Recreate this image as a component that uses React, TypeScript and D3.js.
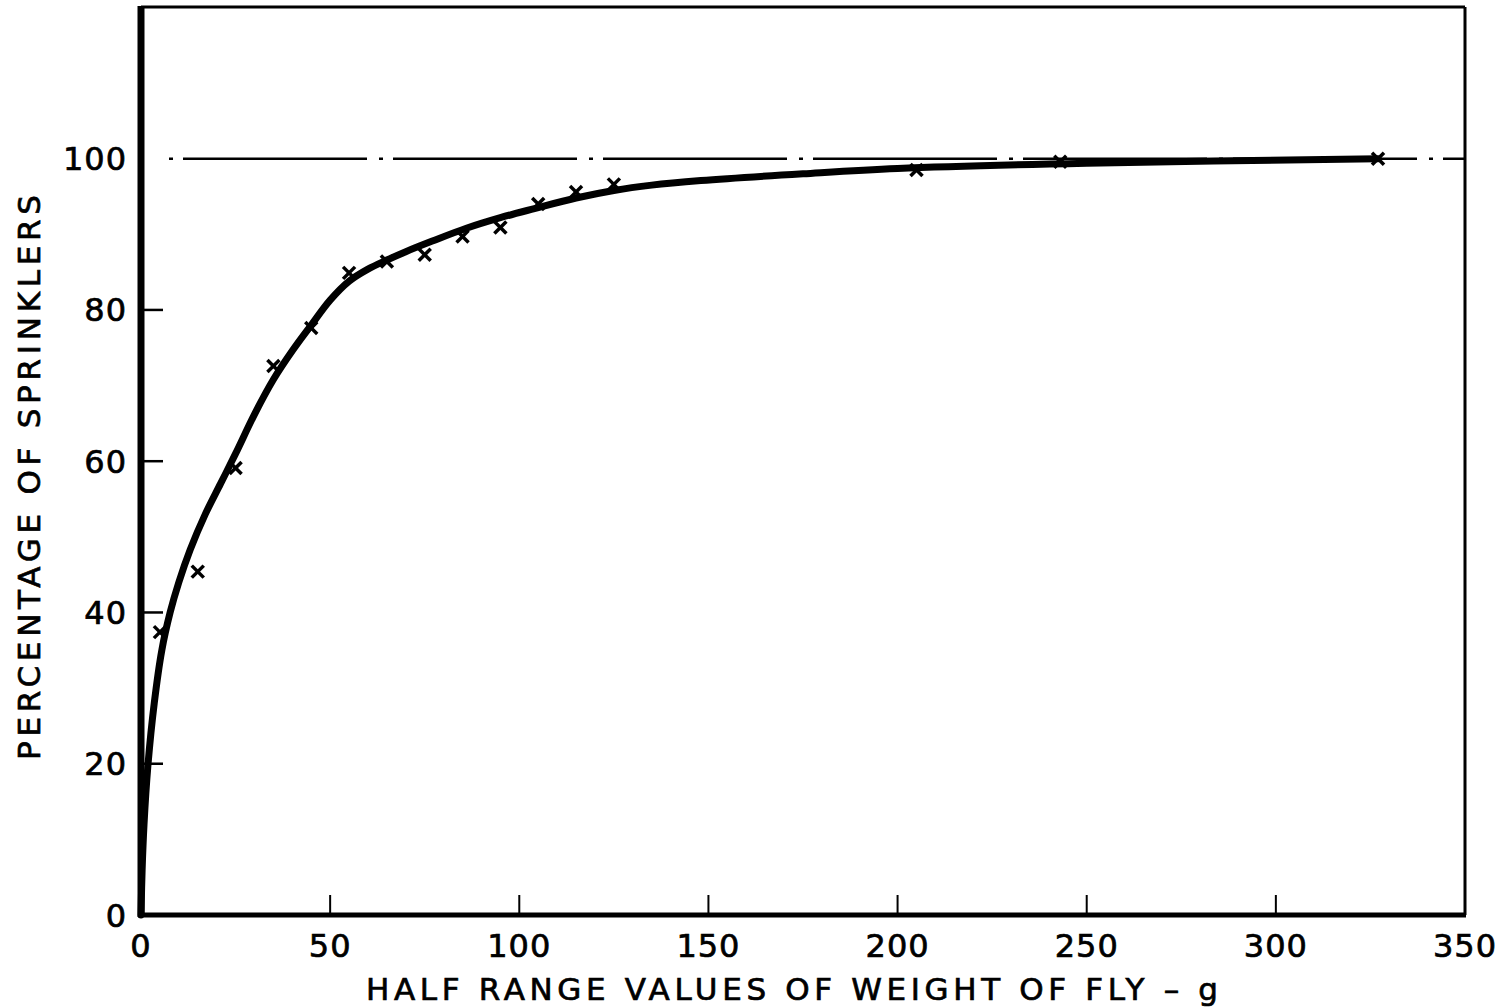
import React from 'react'
import * as d3 from 'd3'

// observed points (half range of fly weight, % of sprinklers)
const obsX = [5, 15, 25, 35, 45, 55, 65, 75, 85, 95, 105, 115, 125, 205, 243, 327]
const obsY = [37.4, 45.4, 59.1, 72.6, 77.6, 84.9, 86.4, 87.3, 89.7, 90.9, 94.0, 95.6, 96.6, 98.5, 99.6, 100]

// hand-fitted smooth curve
const fitX = [0, 0.3, 0.8, 1.8, 3.5, 5.5, 7.7, 10, 13, 17, 21, 25, 30, 35, 40, 45, 50, 55, 60, 65, 70, 77, 86, 95, 104, 115, 125, 135, 148, 175, 200, 250, 327]
const fitY = [0, 6, 12, 19.6, 28, 35, 40, 44, 48.3, 53, 57, 61, 66.2, 70.8, 74.6, 78, 81.3, 83.8, 85.4, 86.6, 87.7, 89.1, 90.8, 92.2, 93.4, 94.8, 95.8, 96.5, 97.1, 98.0, 98.7, 99.4, 100]

const xTicks = [0, 50, 100, 150, 200, 250, 300, 350]
const yTicks = [0, 20, 40, 60, 80, 100]
const refLevel = 100

const W = 1504
const H = 1008
const left = 141
const right = 1465
const top = 7
const bottom = 915

export default function App() {
  const x = d3.scaleLinear().domain([0, 350]).range([left, right])
  const y = d3.scaleLinear().domain([0, 120]).range([bottom, top + 0.4])

  const pts = fitX.map((v, i) => [v, fitY[i]] as [number, number])
  const line = d3.line<[number, number]>()
    .x(d => x(d[0]))
    .y(d => y(d[1]))
    .curve(d3.curveCatmullRom.alpha(0.5))

  const font = '"DejaVu Sans", "Noto Sans", sans-serif'
  const txt = { fontFamily: font, fill: '#000', stroke: '#000', strokeWidth: 0.7 }

  return (
    <div style={{ position: 'absolute', left: 0, top: 0 }}>
      <svg width={W} height={H} viewBox={`0 0 ${W} ${H}`} style={{ display: 'block', background: '#fff' }}>
        {/* frame */}
        <line x1={left} y1={top} x2={right} y2={top} stroke='#000' strokeWidth={3} />
        <line x1={right} y1={top} x2={right} y2={bottom} stroke='#000' strokeWidth={3} />
        <line x1={left} y1={top - 1} x2={left} y2={bottom + 2} stroke='#000' strokeWidth={7} />
        <line x1={left - 3} y1={bottom} x2={right + 1} y2={bottom} stroke='#000' strokeWidth={5} />

        {/* y ticks inside */}
        {yTicks.filter(t => t > 0 && t < refLevel).map(t => (
          <line key={'yt' + t} x1={left} x2={left + 22} y1={y(t)} y2={y(t)} stroke='#000' strokeWidth={2.5} />
        ))}
        {/* x ticks inside */}
        {xTicks.filter(t => t > 0 && t < 350).map(t => (
          <line key={'xt' + t} x1={x(t)} x2={x(t)} y1={bottom} y2={bottom - 20} stroke='#000' strokeWidth={2} />
        ))}

        {/* 100% reference line, dash-dot */}
        <line
          x1={left + 28} x2={right} y1={y(refLevel)} y2={y(refLevel)}
          stroke='#000' strokeWidth={2.5}
          strokeDasharray='4,10,184,12'
        />

        {/* fitted curve */}
        <path d={line(pts) ?? ''} fill='none' stroke='#000' strokeWidth={7} strokeLinecap='round' />

        {/* observed markers */}
        {obsX.map((v, i) => {
          const cx = x(v)
          const cy = y(obsY[i])
          const s = 6
          return (
            <g key={'m' + i} stroke='#000' strokeWidth={3.5}>
              <line x1={cx - s} y1={cy - s} x2={cx + s} y2={cy + s} />
              <line x1={cx - s} y1={cy + s} x2={cx + s} y2={cy - s} />
            </g>
          )
        })}

        {/* y tick labels */}
        {yTicks.map(t => (
          <text key={'yl' + t} x={127} y={y(t)} dy='0.36em' textAnchor='end'
            fontSize={32} letterSpacing={1} {...txt}>{t}</text>
        ))}
        {/* x tick labels */}
        {xTicks.map(t => (
          <text key={'xl' + t} x={x(t)} y={957} textAnchor='middle'
            fontSize={32} letterSpacing={1} {...txt}>{t}</text>
        ))}

        {/* axis titles */}
        <text x={366} y={1000} textLength={852} lengthAdjust='spacing'
          fontSize={31} {...txt}>HALF  RANGE  VALUES  OF  WEIGHT  OF  FLY – g</text>
        <text transform='translate(40,760) rotate(-90)' x={0} y={0} textLength={565} lengthAdjust='spacing'
          fontSize={31} {...txt}>PERCENTAGE  OF  SPRINKLERS</text>
      </svg>
    </div>
  )
}
